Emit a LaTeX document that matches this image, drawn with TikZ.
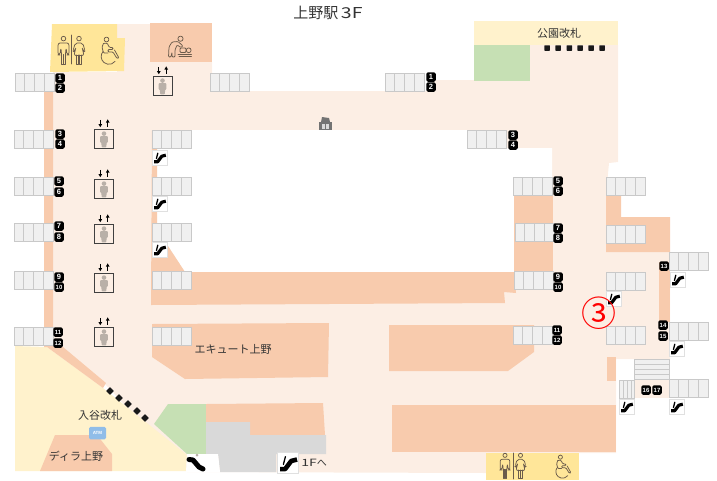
\documentclass[tikz,border=0pt]{standalone}
\usepackage{fontspec}
\setmainfont{Noto Sans CJK JP}
\newfontfamily\badgefont{Liberation Sans}
\definecolor{floorc}{HTML}{FCEEE4}
\definecolor{shopc}{HTML}{F8CBAD}
\definecolor{creamc}{HTML}{FFF2CC}
\definecolor{wcc}{HTML}{FFE699}
\definecolor{greenc}{HTML}{C6E0B4}
\definecolor{grayc}{HTML}{D9D9D9}
\definecolor{cellc}{HTML}{F0F0F0}
\definecolor{celll}{HTML}{C9C9C9}
\definecolor{iconc}{HTML}{6B5B4B}
\definecolor{liftc}{HTML}{B9B0A8}
\definecolor{textc}{HTML}{333333}
\definecolor{atmc}{HTML}{90BDE8}
\def\esclw{3.2pt}
\tikzset{
  floorfill/.style={fill=floorc},
  shopfill/.style={fill=shopc},
  badge/.style={fill=black,rounded corners=1.6pt,minimum width=9.5pt,minimum height=9.5pt,inner sep=0pt,text=white,font=\badgefont\bfseries\fontsize{7.5}{7.5}\selectfont},
  badgew/.style={badge,font=\badgefont\bfseries\fontsize{6}{6}\selectfont},
  label/.style={text=textc,inner sep=0pt,font=\fontsize{11}{11}\selectfont},
  gatesq/.style={fill=black!90,minimum size=5.5pt,inner sep=0pt,rounded corners=.5pt},
  iconline/.style={draw=iconc,line width=.75pt,line join=round,line cap=round},
  cellrow/.pic={
    \draw[fill=cellc,draw=celll,line width=.9pt] (0,0) rectangle (39,18.5);
    \draw[celll,line width=.7pt] (9,0)--(9,18.5) (19.5,0)--(19.5,18.5) (29,0)--(29,18.5);
  },
  lift/.pic={
    \draw[black!75,fill=floorc,line width=.9pt] (-9.5,0) rectangle (9.5,19.5);
    \fill[liftc] (0,4.6) circle (2.3);
    \fill[liftc,rounded corners=.8pt] (-3.8,7)--(3.8,7)--(3.8,13.5)--(2.6,13.5)--(2.4,18.3)--(-2.4,18.3)--(-2.6,13.5)--(-3.8,13.5)--cycle;
    \draw[black,line width=1.2pt] (-3.7,-9.2)--(-3.7,-4) (3.7,-7.8)--(3.7,-2.4);
    \fill[black] (-3.7,-1.8)--(-5.6,-5)--(-1.8,-5)--cycle;
    \fill[black] (3.7,-9.6)--(5.6,-6.4)--(1.8,-6.4)--cycle;
  },
  esc/.pic={
    \draw[fill=white,draw=black!12,line width=.7pt] (0,0) rectangle (15,15);
    \draw[black,line width=\esclw,line join=round] (2.2,11.8)--(5.6,11.8)--(9.8,6.2)--(13.8,5.2);
    \draw[black,line width=1.3pt,line cap=round] (5.8,3.2)--(4.4,8.6);
  },
  manicon/.pic={
    \draw[iconline] (0,2.6) circle (2.3);
    \draw[iconline] (-2,18)--(-2,28)--(-.2,28)--(-.2,18.5)--(.2,18.5)--(.2,28)--(2,28)--(2,18);
    \draw[iconline,rounded corners=2pt] (-2,18)--(-2.6,12)--(-3.6,19)--(-5.4,19)--(-5.4,7)--(5.4,7)--(5.4,19)--(3.6,19)--(2.6,12)--(2,18);
  },
  womanicon/.pic={
    \draw[iconline] (0,2.6) circle (2.3);
    \draw[iconline] (-2.2,19)--(-2.2,28)--(-.2,28)--(-.2,19) (.2,19)--(.2,28)--(2.2,28)--(2.2,19);
    \draw[iconline,rounded corners=2pt] (-3.8,7)--(3.8,7)--(6,15)--(4.4,16)--(3,11)--(5,19.5)--(-5,19.5)--(-3,11)--(-4.4,16)--(-6,15)--cycle;
  },
  wheelicon/.pic={
    \draw[iconline] (7.5,2.5) circle (2.4);
    \draw[iconline,rounded corners=1pt] (4.5,6.5)--(8,6)--(10.5,10.5)--(14,10.5)--(14,12.5)--(9,12.5)--(9,15)--(14,15)--(18,21.5)--(20,21)--(15.5,13);
    \draw[iconline,rounded corners=1pt] (4.5,6.5)--(3,10)--(4.5,16)--(9,16);
    \draw[iconline] (4,14.5) arc[start angle=-140,end angle=-322,radius=7.8];
  },
}
\begin{document}
\begin{tikzpicture}[x=1pt,y=-1pt]
\useasboundingbox (0,0) rectangle (717,480);
% floor
\fill[floorfill] (117,24)--(150,24)--(150,62)--(212,62)--(212,91)--(432,91)--(432,80)--(530,80)--(530,45)--(618,45)--(618,162)--(609,163)--(606,195)--(606,252)--(670,252)--(670,359)--(616,359)--(616,453)--(486,453)--(486,473)--(187,472)--(107,386)--(63,347)--(53,347)--(53,72)--(117,72)--cycle;
% courtyard
\fill[white] (157,130)--(467,130)--(467,148)--(552,148)--(552,195)--(514,195)--(514,272)--(185,272)--(166,243)--(157,243)--cycle;
% yellow / cream / green
\fill[wcc] (52,24)--(117,24)--(117,38)--(125,38)--(124,71)--(50,72)--cycle;
\fill[wcc] (486,453)--(579,453)--(579,480)--(486,480)--cycle;
\fill[creamc] (474,21) rectangle (618,45);
\fill[greenc] (474,45) rectangle (530,81);
\fill[creamc] (15,346)--(47,347)--(103,388)--(187,455)--(186,471)--(15,471)--cycle;
\fill[greenc] (154,424)--(168,404)--(206,404)--(206,454)--(187,454)--cycle;
% shops
\fill[shopfill] (150,23)--(212,23)--(212,62)--(150,62)--cycle;
\fill[shopfill] (44,91)--(53,91)--(53,347)--(63,347)--(106,383)--(103,388)--(47,347)--(44,347)--cycle;
\fill[shopfill] (152,130)--(157,130)--(157,243)--(166,243)--(185,272)--(514,272)--(516,293)--(504,292)--(505,303)--(151,305)--cycle;
\fill[shopfill] (514,195) rectangle (553,272);
\fill[shopfill] (606,195)--(621,195)--(621,217)--(670,217)--(670,252)--(606,252)--cycle;
\fill[shopfill] (659,262) rectangle (670,322);
\fill[shopfill] (607,357) rectangle (616,381);
\fill[shopfill] (152,324)--(329,323)--(328,377)--(185,379)--(152,357)--cycle;
\fill[shopfill] (389,325)--(534,325)--(534,352)--(508,371)--(389,371)--cycle;
\fill[shopfill] (392,405) rectangle (616,452);
\fill[shopfill] (206,404)--(323,403)--(325,435)--(250,435)--(250,422)--(206,422)--cycle;
\fill[shopfill] (40,471)--(55,435)--(97,435)--(112,454)--(112,471)--cycle;
% gray
\fill[grayc] (206,422)--(250,422)--(250,435)--(326,435)--(326,454)--(276,454)--(276,472)--(220,472)--(218,454)--(206,454)--cycle;
\fill[white] (187,454)--(218,454)--(220,472)--(186,472)--cycle;
% stairs
\fill[floorfill] (634,379) rectangle (669,398);
\draw[fill=cellc,draw=celll,line width=.7pt] (634,359) rectangle (669,379);
\draw[celll,line width=.6pt] (634,364)--(669,364) (634,369)--(669,369) (634,374)--(669,374);
\draw[fill=cellc,draw=celll,line width=.7pt] (619,380) rectangle (634,398);
\draw[celll,line width=.6pt] (623,380)--(623,398) (627,380)--(627,398) (631,380)--(631,398);
% platforms
\foreach \px/\py in {15/73,14/130,14/177,14/223,14/271,14/327,152/130,152/177,152/223,152/271,152/327,210/73,385/73,467/130,513/177,515/223,514/271,513/326,606/177,606/225,606/272,606/326,669/252,669/322,669/379}
  \pic at (\px,\py) {cellrow};
% escalators
\foreach \px/\py in {152/150,152/196,152/242,606/291,670/272,669/341,619/399,669/399}
  \pic at (\px,\py) {esc};
\def\esclw{4.6pt}
\pic[scale=1.45] at (277,452) {esc};
\def\esclw{3.2pt}
\draw[black,line width=5pt,line cap=round,line join=round] (189,459.5)--(193,460)--(199,467)--(203,469);
\fill[liftc] (197,455) circle (1.5);
% lifts
\foreach \px/\py in {162.5/76,104/129,104/179,104/224,104/273,104/327}
  \pic at (\px,\py) {lift};
% badges
\foreach \nm/\px/\py in {1/60/78,2/60/88,3/60/134,4/60/144,5/59/181,6/59/192,7/59/226,8/59/237,9/59/277,1/431/77,2/431/87,3/513/135,4/513/145,5/558/181,6/558/191,7/558/228,8/558/238,9/558/277}
  \node[badge] (b\nm-\px-\py) at (\px,\py) {\nm};
\foreach \nm/\px/\py in {10/59/287,11/58/332,12/58/343,10/558/287,11/557/330,12/557/340,13/664/266,14/663/325,15/663/336,16/646/390,17/657/390}
  \node[badgew] (b\nm-\px-\py) at (\px,\py) {\nm};
% gates
\foreach \px/\py [count=\i] in {547/48,558/48,569.3/48,580/48,591/48,602/48}
  \node[gatesq] (gp\i) at (\px,\py) {};
\foreach \px/\py [count=\i] in {110/391,119/398,128/404,137/411,145/418}
  \node[gatesq,rotate=45] (gi\i) at (\px,\py) {};
% wc icons
\pic at (63.5,36) {manicon};
\draw[iconline] (71.3,35)--(71.3,64);
\pic at (79,36) {womanicon};
\pic at (99,37) {wheelicon};
\pic[scale=.9] at (505,453) {manicon};
\draw[iconline] (513,453)--(513,479);
\pic[scale=.9] at (520.5,453) {womanicon};
\pic[scale=.85] at (554,455) {wheelicon};
% baby room
\draw[iconline] (180.5,38.7) circle (2.6);
\draw[iconline,rounded corners=1pt] (169,47)--(172,42)--(178,41.5)--(183,46)--(181,47.5)--(177,45)--(175,50)--(175,57)--(172,57)--(172,52)--(171,57)--(168.5,57)--cycle;
\draw[iconline] (178,54.5)--(191.5,54.5) (179,56.5)--(191.5,56.5);
\draw[iconline,rounded corners=1pt] (180,48)--(186,48)--(186,52.5)--(180,52.5)--cycle;
\draw[iconline] (188.7,50.3) circle (2.4);
% locker
\fill[black!55] (319,122) rectangle (332,130);
\fill[black!55] (322,117)--(329,118)--(330,122)--(321,122)--cycle;
\fill[white!85!black] (322,124) rectangle (329,129);
\draw[black!55,line width=.6pt] (325.5,124)--(325.5,129);
% atm
\node[fill=atmc,inner sep=0pt,rounded corners=1.5pt,minimum width=17pt,minimum height=12.5pt,text=white,font=\badgefont\bfseries\fontsize{4.5}{4.5}\selectfont] (atm) at (97.5,433) {ATM};
% texts
\node[label,font=\fontsize{15}{15}\selectfont] (title) at (328,13) {上野駅\,\scalebox{1.3}[1]{3F}};
\node[label] (park) at (559,33) {公園改札};
\node[label] (iriya) at (100,415) {入谷改札};
\node[label] (dila) at (76,456) {ディラ上野};
\node[label] (ecute) at (233,349) {エキュート上野};
\node[label,font=\fontsize{10}{10}\selectfont] (down) at (314,463) {\scalebox{1.4}[1]{1F}へ};
\node[text=red,inner sep=0pt,font=\fontsize{35}{35}\selectfont] (three) at (599,313) {③};
\end{tikzpicture}
\end{document}
